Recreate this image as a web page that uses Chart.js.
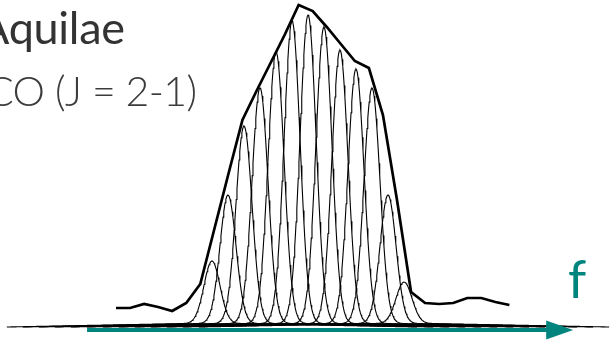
<!DOCTYPE html>
<html>
<head>
<meta charset="utf-8">
<script src="https://cdn.jsdelivr.net/npm/chart.js@4"></script>
<style>
    body { margin: 0; background: #fff; }
    #wrap { position: relative; width: 610px; height: 342px; overflow: hidden; }
    #wrap canvas { position: absolute; left: 0; top: 0; }
    .lbl { position: absolute; white-space: nowrap; line-height: 1; }
    #star { left: -21px; top: 0px; font: 400 45px "Lato", "Open Sans", sans-serif; color: #333; letter-spacing: -0.3px; }
    #line { left: -14px; top: 66px; font: 300 41px "Lato", "Open Sans", sans-serif; color: #3c3c3c; letter-spacing: -0.6px; }
    #freq { left: 568px; top: 247px; font: 400 52px "Lato", "Open Sans", sans-serif; color: #00857e; }
</style>
</head>
<body>
<div id="wrap">
    <canvas id="specChart" width="610" height="342"></canvas>
    <div class="lbl" id="star">Aquilae</div>
    <div class="lbl" id="line">CO (J = 2-1)</div>
    <div class="lbl" id="freq">f</div>
</div>
<script>
// Observed spectrum, one value per channel
var channels = [];
for (var i = 0; i < 29; i++) channels.push(i);
var flux = [0.15, 0.15, 0.19, 0.16, 0.12, 0.20, 0.39, 0.94, 1.49, 2.03,
            2.32, 2.60, 2.88, 3.18, 3.12, 2.96, 2.79, 2.62, 2.55, 2.08,
            1.23, 0.31, 0.20, 0.19, 0.20, 0.25, 0.25, 0.21, 0.18];

// Gaussian components (centre in channels, peak height, width)
var compCentre = [6.83, 7.97, 9.11, 10.25, 11.39, 12.53, 13.67, 14.80, 15.94, 17.08, 18.22, 19.36, 20.50];
var compPeak = [0.62, 1.28, 1.97, 2.35, 2.71, 3.02, 3.08, 2.96, 2.73, 2.54, 2.35, 1.28, 0.41];
var compSigma = 0.57;
var compSpan = 14.6;
var compDrop = 0.04;   // baseline of each component sags a little towards its ends

var teal = '#00857e';

function gaussPoints(c, a)
{
    var pts = [];
    for (var x = c - compSpan; x <= c + compSpan + 1e-9; x += 0.05)
    {
        var d = (x - c) / compSigma;
        pts.push({ x: x, y: a * Math.exp(-0.5 * d * d) - compDrop * Math.abs(x - c) / compSpan });
    }
    return pts;
}

var datasets = [];

compCentre.forEach(function (c, k)
{
    datasets.push(
    {
        data: gaussPoints(c, compPeak[k]),
        borderColor: '#000',
        borderWidth: 1.1,
        pointRadius: 0,
        tension: 0,
        clip: false
    });
});

datasets.push(
{
    data: channels.map(function (ch, i) { return { x: ch, y: flux[i] }; }),
    borderColor: '#000',
    borderWidth: 2.7,
    pointRadius: 0,
    tension: 0,
    borderJoinStyle: 'miter',
    clip: false
});

// Frequency arrow under the spectrum
var arrowPlugin =
{
    id: 'arrow',
    afterDatasetsDraw: function (chart)
    {
        var xs = chart.scales.x, ys = chart.scales.y, ctx = chart.ctx;
        var x0 = xs.getPixelForValue(-2.06);
        var x1 = xs.getPixelForValue(32.54);
        var y = ys.getPixelForValue(-0.07);
        ctx.save();
        ctx.fillStyle = teal;
        ctx.fillRect(x0, y - 2, x1 - x0 - 24, 4);
        ctx.beginPath();
        ctx.moveTo(x1, y);
        ctx.lineTo(x1 - 27, y - 9.5);
        ctx.lineTo(x1 - 27, y + 9.5);
        ctx.closePath();
        ctx.fill();
        ctx.restore();
    }
};

var ctx = document.getElementById('specChart').getContext('2d');
var myChart = new Chart(ctx,
{
    type: 'line',
    data: { datasets: datasets },
    options:
    {
        responsive: false,
        animation: false,
        layout: { padding: 0 },
        plugins: { legend: { display: false }, tooltip: { enabled: false }, title: { display: false } },
        scales:
        {
            x: { type: 'linear', display: false, min: -8.256, max: 35.16 },
            y: { display: false, min: -0.19, max: 3.23 }
        }
    },
    plugins: [arrowPlugin]
});
</script>
</body>
</html>
